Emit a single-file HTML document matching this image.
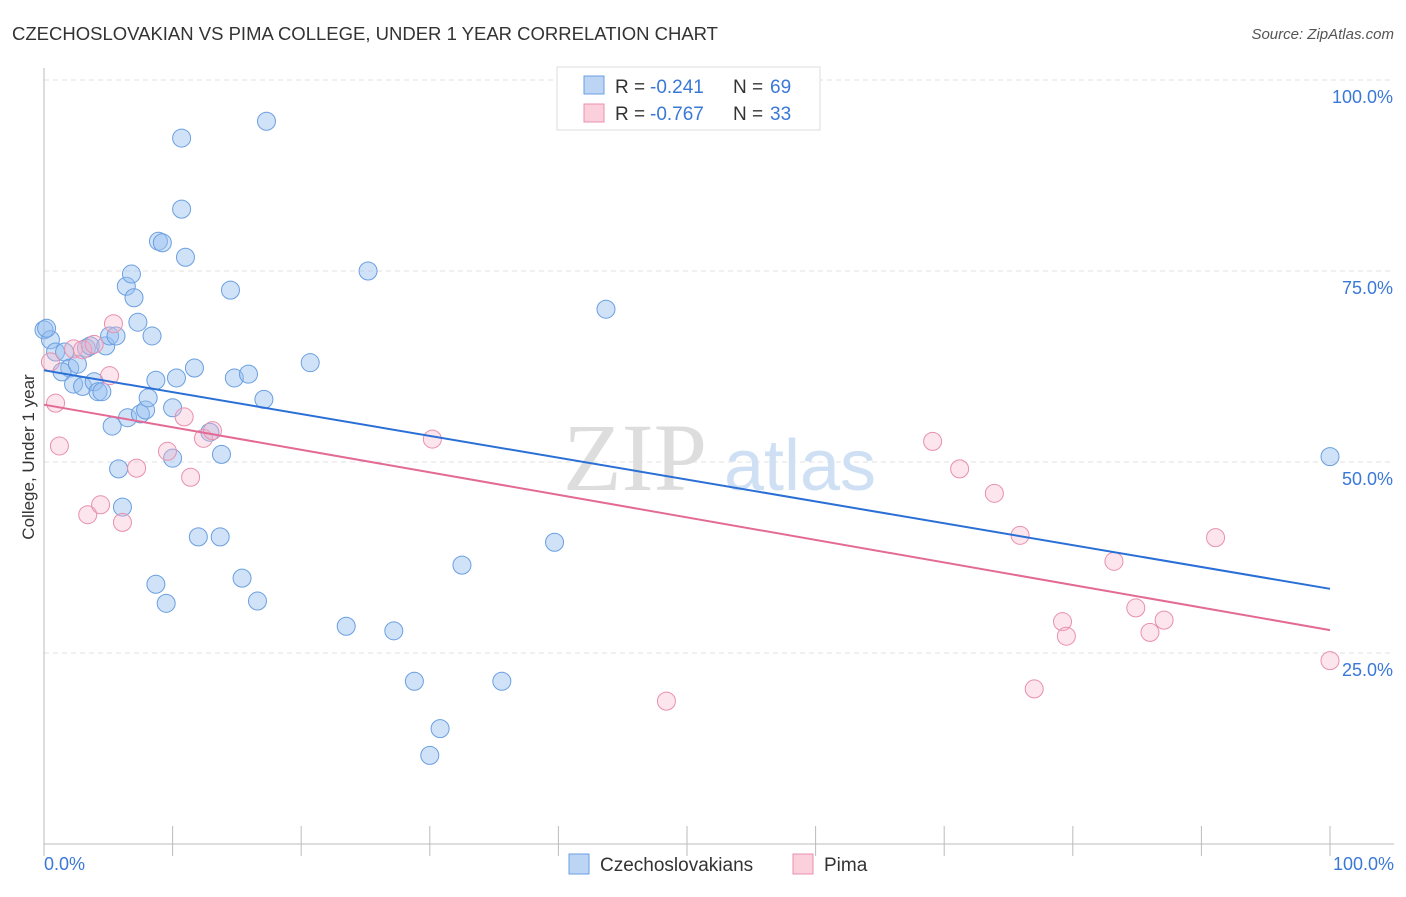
<!DOCTYPE html>
<html><head><meta charset="utf-8"><style>
body{margin:0;background:#fff;font-family:"Liberation Sans",sans-serif}
</style></head><body>
<svg width="1406" height="892" xmlns="http://www.w3.org/2000/svg" style="font-family:'Liberation Sans',sans-serif">
<text x="12" y="40" font-size="18.5" fill="#333" textLength="706" lengthAdjust="spacingAndGlyphs">CZECHOSLOVAKIAN VS PIMA COLLEGE, UNDER 1 YEAR CORRELATION CHART</text>
<text x="1394" y="39" font-size="15" fill="#555" font-style="italic" text-anchor="end">Source: ZipAtlas.com</text>
<g id="grid"></g>
<g>
<text x="635" y="490" font-size="96" font-family="'Liberation Serif',serif" fill="#ddd" text-anchor="middle">ZIP</text>
<text x="800" y="490" font-size="72" fill="#cfe0f5" text-anchor="middle">atlas</text>
</g>
<text transform="translate(34,457) rotate(-90)" font-size="17" fill="#333" text-anchor="middle">College, Under 1 year</text>
<g id="pts"></g>
<g id="trend"></g>
<g>
<rect x="557" y="67" width="263" height="63" fill="#fff" stroke="#ddd"/>
<rect x="584" y="76" width="20" height="18" fill="#bcd5f5" stroke="#6a9fe0"/>
<rect x="584" y="104" width="20" height="18" fill="#fbd0dc" stroke="#e890ad"/>
<text x="615" y="93" font-size="19" fill="#333">R =</text>
<text x="650" y="93" font-size="19" fill="#3a78d8">-0.241</text>
<text x="733" y="93" font-size="19" fill="#333">N =</text>
<text x="770" y="93" font-size="19" fill="#3a78d8">69</text>
<text x="615" y="120" font-size="19" fill="#333">R =</text>
<text x="650" y="120" font-size="19" fill="#3a78d8">-0.767</text>
<text x="733" y="120" font-size="19" fill="#333">N =</text>
<text x="770" y="120" font-size="19" fill="#3a78d8">33</text>
</g>
<g>
<rect x="569" y="854" width="20" height="20" fill="#bcd5f5" stroke="#6a9fe0"/>
<text x="600" y="871" font-size="19" fill="#333">Czechoslovakians</text>
<rect x="793" y="854" width="20" height="20" fill="#fbd0dc" stroke="#e890ad"/>
<text x="824" y="871" font-size="19" fill="#333">Pima</text>
</g>
</svg>
<script>
const yTicks=[25,50,75,100];
const yTickLabels=["25.0%","50.0%","75.0%","100.0%"];
const xTickLabels=["0.0%","100.0%"];
const blueX=[0,0.5,0.2,0.9,1.6,2.0,1.4,2.3,2.6,3.0,3.3,3.6,3.9,4.2,4.5,4.8,5.1,5.3,5.6,5.8,6.1,6.5,6.4,6.8,7.0,7.3,7.5,7.9,8.1,8.4,8.7,8.7,8.9,9.2,9.5,10.0,10.0,10.3,10.7,10.7,11.0,11.7,12.0,12.9,13.7,13.8,14.5,14.8,15.4,15.9,16.6,17.1,17.3,20.7,23.5,25.2,27.2,28.8,30.8,30.0,32.5,35.6,39.7,43.7,50.1,100];
const blueY=[67.3,66.0,67.5,64.4,64.4,62.3,61.8,60.2,62.8,59.9,64.9,65.2,60.5,59.2,59.2,65.2,66.5,54.7,66.5,49.1,44.1,55.8,73.0,74.6,71.5,68.3,56.3,56.8,58.4,66.5,34.0,60.7,78.9,78.7,31.5,57.1,50.5,61.0,92.4,83.1,76.8,62.3,40.2,53.9,40.2,51.0,72.5,61.0,34.8,61.5,31.8,58.2,94.6,63.0,28.5,75.0,27.9,21.3,15.1,11.6,36.5,21.3,39.5,70.0,100.0,50.7];
const pinkX=[0.5,0.9,1.2,2.3,3.0,3.4,3.9,4.4,5.1,5.4,6.1,7.2,9.6,10.9,11.4,12.4,13.1,30.2,48.4,69.1,71.2,73.9,75.9,77.0,79.2,79.5,83.2,84.9,86.0,87.1,91.1,100];
const pinkY=[63.1,57.7,52.1,64.8,64.7,43.1,65.4,44.4,61.3,68.1,42.1,49.2,51.4,55.9,48.0,53.1,54.1,53.0,18.7,52.7,49.1,45.9,40.4,20.3,29.1,27.2,37.0,30.9,27.7,29.3,40.1,24.0];
const blueTrend=[62.0,33.4];
const pinkTrend=[57.5,28.0];
const NS="http://www.w3.org/2000/svg";
const sx=v=>44+v*12.86, sy=v=>844-v*7.64;
function mk(t,a,p){const e=document.createElementNS(NS,t);for(const k in a)e.setAttribute(k,a[k]);p.appendChild(e);return e;}
const g=document.getElementById('grid');
yTicks.forEach((t,i)=>{
 const l=mk('line',{x1:44,x2:1394,y1:sy(t),y2:sy(t),stroke:'#e2e2e2','stroke-dasharray':'5,4'},g);
 
 
 const tx=mk('text',{x:1393,y:sy(t)+23,'font-size':18,fill:'#3a78d8','text-anchor':'end'},g);
 tx.textContent=yTickLabels[i];
 
 
});
const ax=mk('line',{x1:44,x2:44,y1:68,y2:844,stroke:'#bbb'},g);


const bx=mk('line',{x1:44,x2:1394,y1:844,y2:844,stroke:'#bbb'},g);


for(let i=0;i<=10;i++){const t=mk('line',{x1:sx(i*10),x2:sx(i*10),y1:826,y2:856,stroke:'#bbb'},g);
 
 }
[[0,'start',44],[100,'end',1394]].forEach((d,i)=>{const t=mk('text',{x:d[2],y:870,'font-size':18,fill:'#3a78d8','text-anchor':d[1]},g);t.textContent=xTickLabels[i];
 
 });
const p=document.getElementById('pts');
blueX.forEach((x,i)=>{const c=mk('circle',{cx:sx(x),cy:sy(blueY[i]),r:9,fill:'rgba(150,190,240,0.45)',stroke:'#6a9fe0','stroke-width':1},p);
 
 });
pinkX.forEach((x,i)=>{const c=mk('circle',{cx:sx(x),cy:sy(pinkY[i]),r:9,fill:'rgba(245,180,200,0.35)',stroke:'#e890ad','stroke-width':1},p);
 
 });
const tr=document.getElementById('trend');
const b=mk('line',{x1:sx(0),y1:sy(blueTrend[0]),x2:sx(100),y2:sy(blueTrend[1]),stroke:'#2a6fd6','stroke-width':2},tr);


const k=mk('line',{x1:sx(0),y1:sy(pinkTrend[0]),x2:sx(100),y2:sy(pinkTrend[1]),stroke:'#e36a95','stroke-width':2},tr);


</script>
</body></html>
